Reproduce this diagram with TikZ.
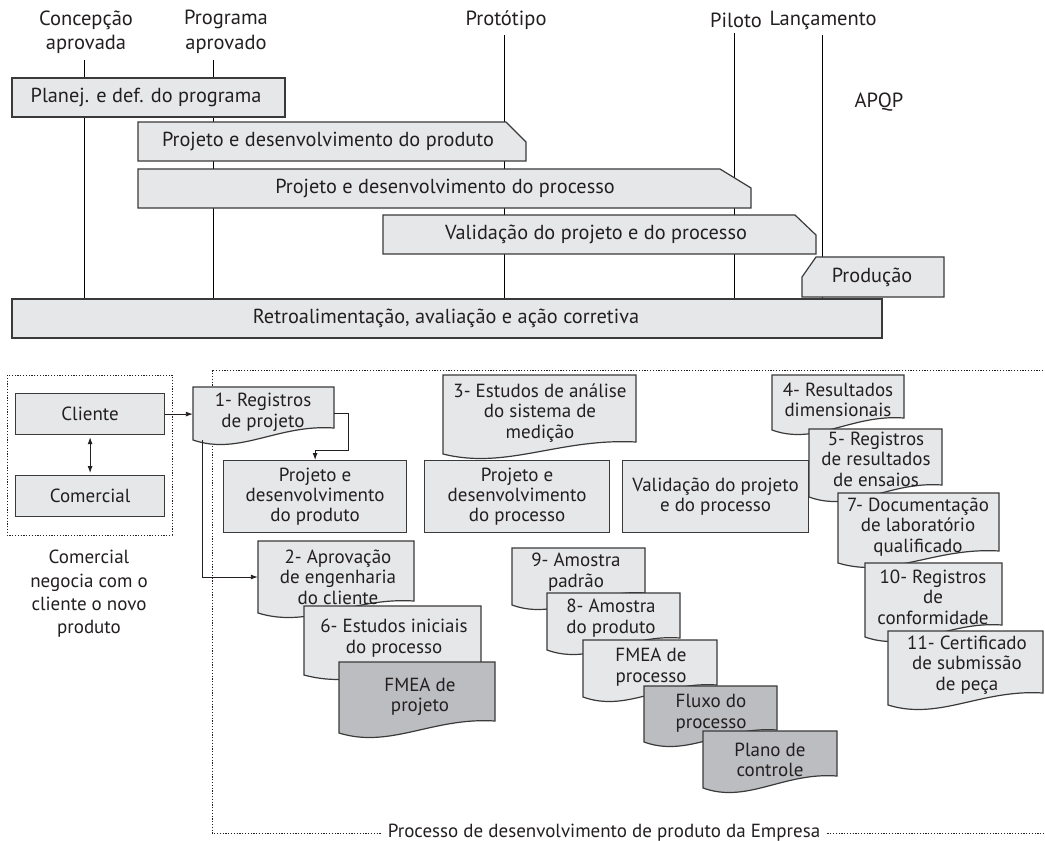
\documentclass[tikz,border=0pt]{standalone}
\usepackage{fontspec}
\setmainfont{PT Sans}
\usetikzlibrary{arrows.meta,calc,fit}
\definecolor{lightf}{HTML}{E6E7E8}
\definecolor{darkf}{HTML}{BCBDC0}
\definecolor{edgec}{HTML}{3A3A3A}
\definecolor{ink}{HTML}{231F20}
\tikzset{
  barshape/.style={draw=edgec, fill=lightf, line width=1.2pt},
  bartext/.style={font=\fontsize{20.3}{22}\selectfont, text=ink, inner sep=0pt},
  toplab/.style={font=\fontsize{20.5}{24.5}\selectfont, text=ink, inner sep=0pt, align=center},
  boxnode/.style={draw=edgec, fill=lightf, line width=1.2pt, align=center,
     font=\fontsize{19}{20}\selectfont, text=ink, inner sep=0pt, anchor=north west},
  docshape/.style={draw=edgec, line width=1.2pt},
  doctext/.style={align=center, font=\fontsize{19}{20.5}\selectfont, text=ink, inner sep=0pt},
  fitbox/.style={inner sep=0pt, draw=none},
  tline/.style={draw=black, line width=0.8pt},
  conn/.style={draw=ink, line width=0.9pt, -{Latex[length=7pt,width=5pt]}},
  dconn/.style={draw=ink, line width=0.9pt, {Latex[length=7pt,width=5pt]}-{Latex[length=7pt,width=5pt]}},
  dotbox/.style={draw=ink, line width=0.9pt, dash pattern=on 1.2pt off 1.6pt},
  plaintext/.style={font=\fontsize{19}{23.3}\selectfont, text=ink, inner sep=0pt, align=center},
}
\newcommand{\docbox}[9]{%
  \path[docshape, fill=#6] (#2,#3) -- (#4,#3) -- (#4,{#5-12})
     .. controls ({#2+0.6*(#4-#2)},{#5-16}) and ({#2+0.33*(#4-#2)},{#5+16}) .. (#2,#5) -- cycle;
  \node[fitbox, fit={(#2,#3)(#4,#5)}] (#1b) {};
  \node[doctext] (#1) at (#7,#8) {#9};
}
\begin{document}
\begin{tikzpicture}[x=1pt,y=-1pt]
\useasboundingbox (0,0) rectangle (1045,841);
\clip (0,0) rectangle (1045,841);
\fill[white] (0,0) rectangle (1045,841);

% milestones
\coordinate (l1) at (84,0);
\coordinate (l2) at (213,0);
\coordinate (l3) at (504,0);
\coordinate (l4) at (734,0);
\coordinate (l5) at (822,0);
\coordinate (rt) at (0,299);
\node[toplab] (m1) at (86,32) {Concepção\\aprovada};
\node[toplab] (m2) at (226,32) {Programa\\aprovado};
\node[toplab] (m3) at (506,20) {Protótipo};
\node[toplab] (m4) at (736,20) {Piloto};
\node[toplab] (m5) at (823,20) {Lançamento};
\draw[tline, shorten >=6pt] (l1 |- rt) -- (m1.south -| l1);
\draw[tline, shorten >=6pt] (l2 |- rt) -- (m2.south -| l2);
\draw[tline, shorten >=5pt] (l3 |- rt) -- (m3.south -| l3);
\draw[tline, shorten >=5pt] (l4 |- rt) -- (m4.south -| l4);
\draw[tline, shorten >=5pt] (l5 |- rt) -- (m5.south -| l5);

% bars
\path[barshape] (12,78) rectangle (285,117);
\node[bartext] (b1) at (146,97.5) {Planej. e def. do programa};
\path[barshape] (138,122) -- (506,122) -- (526,142) -- (526,161) -- (138,161) -- cycle;
\node[bartext] (b2) at (328,141.5) {Projeto e desenvolvimento do produto};
\path[barshape] (138,169) -- (720,169) -- (751,188) -- (751,208) -- (138,208) -- cycle;
\node[bartext] (b3) at (445,188.5) {Projeto e desenvolvimento do processo};
\path[barshape] (383,215) -- (795,215) -- (816,235) -- (816,254) -- (383,254) -- cycle;
\node[bartext] (b4) at (596,234.5) {Validação do projeto e do processo};
\path[barshape] (816,257) -- (944,257) -- (944,297) -- (802,297) -- (802,277) -- cycle;
\node[bartext] (b5) at (872,277) {Produção};
\path[barshape] (12,299) rectangle (882,338);
\node[bartext] (b6) at (446,318.5) {Retroalimentação, avaliação e ação corretiva};
\node[toplab] (apqp) at (879,102) {APQP};

% lower left
\draw[dotbox] (7,375) rectangle (172,535);
\node[boxnode, minimum width=149pt, minimum height=41pt] (cliente) at (15,393) {Cliente};
\node[boxnode, minimum width=149pt, minimum height=41pt] (comercial) at (15,475) {Comercial};
\draw[dconn, shorten <=2pt, shorten >=2pt] (cliente) -- (comercial);
\node[plaintext] (neg) at (89,594) {Comercial\\negocia com o\\cliente o novo\\produto};

% big dotted region
\draw[dotbox] (1060,370) -- (212,370) -- (212,833) -- (1060,833);
\node[fill=white, inner xsep=6pt, inner ysep=2pt, font=\fontsize{19}{20}\selectfont, text=ink, anchor=base] (lbl) at (604,837.5) {Processo de desenvolvimento de produto da Empresa};

% documents row 1
\docbox{d1}{193}{387}{334}{440}{lightf}{263}{412}{1- Registros\\de projeto}
\docbox{d3}{443}{375}{636}{454}{lightf}{540}{413}{3- Estudos de análise\\do sistema de\\medição}
\docbox{d4}{772}{375}{904}{430}{lightf}{838}{400}{4- Resultados\\dimensionais}
\docbox{d5}{809}{429}{942}{497}{lightf}{876}{459}{5- Registros\\de resultados\\de ensaios}
\docbox{d7}{838}{493}{999}{563}{lightf}{918}{527}{7- Documentação\\de laboratório\\qualificado}
\docbox{d10}{865}{563}{1002}{637}{lightf}{933}{597}{10- Registros\\de\\conformidade}
\docbox{d11}{888}{631}{1043}{705}{lightf}{967}{665}{11- Certificado\\de submissão\\de peça}

% boxes
\node[boxnode, minimum width=183pt, minimum height=72pt] (pprod) at (223,460) {Projeto e\\desenvolvimento\\do produto};
\node[boxnode, minimum width=185pt, minimum height=72pt] (pproc) at (424,460) {Projeto e\\desenvolvimento\\do processo};
\node[boxnode, minimum width=186pt, minimum height=72pt] (valid) at (622,460) {Validação do projeto\\e do processo};

% documents lower chains
\docbox{d2}{258}{541}{414}{613}{lightf}{338}{577}{2- Aprovação\\de engenharia\\do cliente}
\docbox{d6}{304}{606}{481}{675}{lightf}{394}{638}{6- Estudos iniciais\\do processo}
\docbox{fp}{339}{662}{495}{733}{darkf}{420}{697}{FMEA de\\projeto}
\docbox{d9}{512}{548}{645}{605}{lightf}{576}{572}{9- Amostra\\padrão}
\docbox{d8}{547}{593}{680}{650}{lightf}{611}{618}{8- Amostra\\do produto}
\docbox{fproc}{583}{640}{717}{697}{lightf}{651}{667}{FMEA de\\processo}
\docbox{flux}{644}{686}{777}{742}{darkf}{711}{713}{Fluxo do\\processo}
\docbox{plano}{703}{731}{837}{788}{darkf}{770}{760}{Plano de\\controle}

% connectors
\draw[conn] (cliente.east) -- (cliente.east -| d1b.west);
\draw[conn] (d1b.east) -- ++(14,0) -- ++(0,37) -| (pprod.north);
\draw[conn] ([xshift=10pt]d1b.south west) |- (d2b.west);
\end{tikzpicture}
\end{document}
